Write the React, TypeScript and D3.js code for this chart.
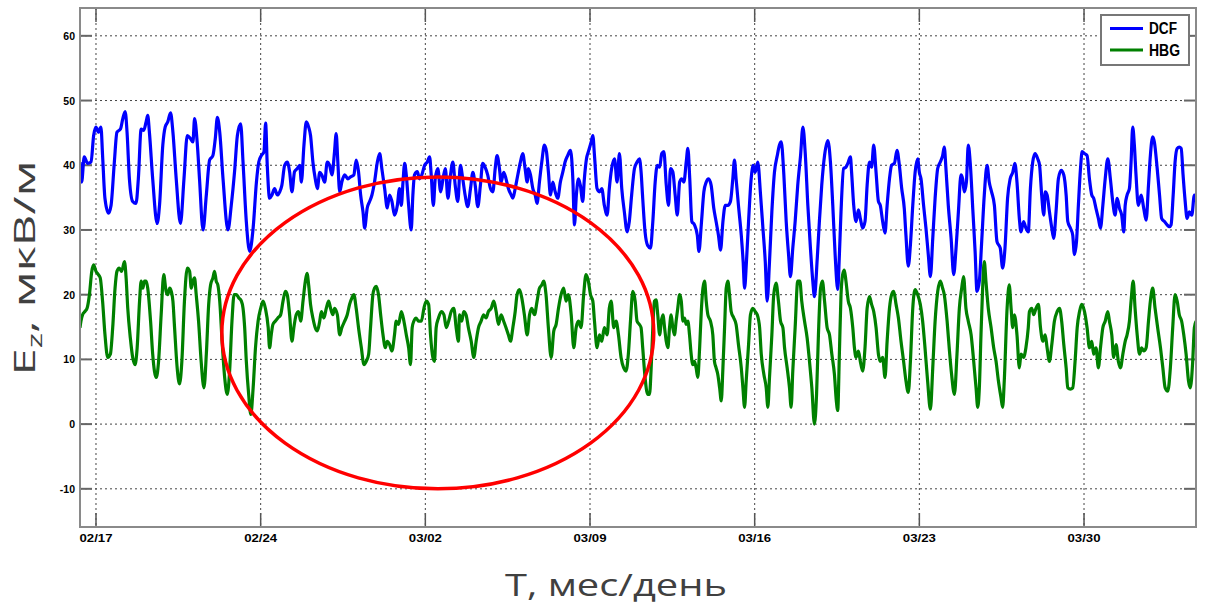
import React from "react";
import * as d3 from "d3";

// Days counted from 02/17 (2016, leap year), values in мкВ/м
const dcfData: [number, number][] = [
  [-0.68, 40.5], [-0.61, 37.4], [-0.5, 41.3], [-0.36, 40.3], [-0.21, 40.5], [-0.1, 44.6], [0.0, 45.9], [0.1, 45.1], [0.21, 45.9], [0.28, 41.5], [0.38, 34.9], [0.53, 32.6], [0.64, 33.8], [0.78, 40.5], [0.89, 45.1], [1.04, 45.6], [1.14, 47.2], [1.24, 48.3], [1.32, 45.1], [1.42, 37.9], [1.56, 34.4], [1.7, 34.1], [1.8, 37.9], [1.92, 45.6], [2.03, 45.4], [2.13, 46.7], [2.2, 47.7], [2.27, 45.1], [2.41, 37.9], [2.6, 31.0], [2.7, 33.8], [2.84, 43.1], [2.94, 45.9], [3.05, 46.7], [3.17, 48.1], [3.27, 45.1], [3.41, 37.9], [3.59, 31.0], [3.74, 37.9], [3.88, 44.6], [4.02, 44.1], [4.12, 43.6], [4.19, 47.2], [4.3, 43.6], [4.4, 37.9], [4.55, 30.0], [4.69, 35.4], [4.83, 40.8], [4.97, 41.5], [5.07, 44.1], [5.16, 47.4], [5.26, 45.1], [5.4, 37.9], [5.61, 30.0], [5.75, 33.8], [5.89, 39.0], [6.01, 44.6], [6.15, 46.4], [6.25, 40.5], [6.39, 31.3], [6.53, 26.7], [6.68, 30.3], [6.82, 37.4], [6.92, 40.5], [7.03, 41.5], [7.14, 42.1], [7.21, 46.5], [7.28, 40.0], [7.38, 34.9], [7.48, 35.4], [7.59, 36.4], [7.71, 35.4], [7.81, 35.9], [7.9, 36.9], [8.02, 40.0], [8.13, 40.5], [8.23, 39.0], [8.33, 35.9], [8.44, 39.0], [8.56, 39.5], [8.66, 40.0], [8.73, 37.4], [8.84, 43.1], [8.94, 46.7], [9.04, 45.9], [9.12, 44.6], [9.22, 40.5], [9.32, 37.9], [9.41, 36.4], [9.51, 38.9], [9.6, 38.5], [9.72, 37.4], [9.83, 40.5], [9.93, 40.0], [10.03, 38.5], [10.14, 42.1], [10.21, 44.9], [10.28, 40.5], [10.36, 35.9], [10.45, 37.4], [10.57, 38.5], [10.71, 37.9], [10.82, 38.2], [10.96, 38.5], [11.06, 40.8], [11.16, 39.0], [11.25, 35.4], [11.35, 32.8], [11.42, 30.3], [11.53, 33.4], [11.63, 34.4], [11.73, 35.4], [11.84, 37.4], [11.96, 40.5], [12.06, 41.8], [12.15, 39.5], [12.27, 36.4], [12.38, 33.4], [12.48, 35.4], [12.58, 34.4], [12.69, 32.3], [12.81, 33.8], [12.9, 36.4], [12.98, 33.8], [13.05, 37.4], [13.12, 40.3], [13.19, 38.5], [13.29, 33.8], [13.4, 30.0], [13.47, 35.4], [13.54, 38.5], [13.66, 39.0], [13.75, 37.9], [13.85, 38.5], [13.97, 40.0], [14.08, 40.5], [14.18, 41.3], [14.25, 38.5], [14.34, 33.8], [14.42, 37.9], [14.53, 39.5], [14.65, 35.9], [14.75, 37.9], [14.85, 39.5], [14.96, 34.9], [15.07, 38.5], [15.17, 40.5], [15.27, 36.9], [15.38, 34.4], [15.49, 40.0], [15.59, 37.9], [15.69, 35.4], [15.8, 33.6], [15.92, 36.4], [16.02, 38.9], [16.12, 36.9], [16.23, 33.6], [16.34, 36.9], [16.44, 40.3], [16.54, 39.7], [16.65, 38.5], [16.77, 36.4], [16.87, 35.9], [16.97, 39.5], [17.05, 41.5], [17.15, 39.5], [17.22, 37.4], [17.33, 38.9], [17.43, 37.9], [17.53, 36.4], [17.65, 35.4], [17.72, 34.9], [17.82, 36.4], [17.93, 38.5], [18.04, 40.5], [18.14, 41.8], [18.24, 39.5], [18.33, 37.4], [18.38, 39.5], [18.47, 38.5], [18.57, 36.4], [18.67, 35.4], [18.75, 34.1], [18.85, 37.4], [18.95, 40.5], [19.06, 43.1], [19.15, 42.1], [19.23, 39.0], [19.32, 35.4], [19.42, 37.4], [19.52, 35.9], [19.63, 34.9], [19.74, 37.4], [19.84, 38.9], [19.94, 40.5], [20.05, 41.5], [20.17, 42.3], [20.27, 37.9], [20.34, 30.8], [20.42, 35.4], [20.51, 37.9], [20.59, 36.9], [20.69, 34.4], [20.76, 37.9], [20.85, 41.0], [20.93, 42.1], [21.05, 43.6], [21.12, 44.6], [21.19, 41.5], [21.3, 36.4], [21.4, 35.9], [21.5, 36.4], [21.61, 33.8], [21.73, 32.3], [21.82, 36.4], [21.92, 39.5], [22.04, 41.0], [22.15, 37.4], [22.25, 41.8], [22.35, 36.4], [22.46, 32.8], [22.58, 29.7], [22.67, 31.3], [22.77, 35.4], [22.89, 39.5], [23.0, 40.5], [23.1, 41.0], [23.17, 39.0], [23.24, 34.9], [23.34, 29.7], [23.45, 27.6], [23.57, 27.2], [23.67, 31.3], [23.77, 37.4], [23.86, 40.0], [23.96, 39.7], [24.05, 41.8], [24.14, 42.1], [24.24, 37.0], [24.34, 33.8], [24.42, 39.5], [24.52, 39.0], [24.62, 35.4], [24.71, 32.3], [24.81, 37.4], [24.9, 37.9], [24.99, 37.4], [25.09, 40.5], [25.16, 42.6], [25.24, 37.9], [25.33, 31.3], [25.44, 30.8], [25.56, 29.2], [25.63, 26.7], [25.73, 30.8], [25.84, 35.9], [25.94, 37.4], [26.04, 37.9], [26.15, 36.9], [26.26, 33.4], [26.36, 31.3], [26.46, 29.2], [26.55, 26.9], [26.65, 31.3], [26.75, 33.8], [26.86, 33.8], [26.97, 34.4], [27.07, 37.9], [27.14, 40.8], [27.21, 37.9], [27.31, 33.8], [27.43, 29.2], [27.51, 25.1], [27.57, 21.0], [27.65, 25.1], [27.74, 31.3], [27.85, 37.9], [27.94, 40.0], [28.02, 38.9], [28.13, 40.5], [28.25, 35.4], [28.35, 30.3], [28.45, 25.1], [28.53, 19.0], [28.63, 25.1], [28.73, 32.8], [28.84, 38.9], [28.96, 41.5], [29.05, 43.1], [29.13, 43.6], [29.24, 38.5], [29.34, 31.3], [29.44, 26.2], [29.52, 22.8], [29.62, 27.2], [29.72, 31.3], [29.83, 36.9], [29.95, 41.5], [30.05, 45.9], [30.15, 41.8], [30.26, 33.8], [30.37, 27.2], [30.47, 22.1], [30.54, 19.7], [30.66, 25.6], [30.75, 31.3], [30.85, 36.9], [30.97, 41.5], [31.11, 43.8], [31.22, 40.5], [31.32, 33.8], [31.42, 26.2], [31.53, 20.8], [31.6, 26.1], [31.67, 32.8], [31.78, 39.5], [31.88, 39.7], [31.98, 40.5], [32.07, 41.3], [32.12, 38.9], [32.21, 33.8], [32.31, 31.3], [32.41, 33.1], [32.49, 31.8], [32.59, 30.3], [32.69, 31.3], [32.78, 36.9], [32.88, 40.5], [32.97, 39.7], [33.06, 43.1], [33.16, 38.9], [33.26, 34.4], [33.34, 33.8], [33.44, 31.3], [33.54, 29.5], [33.63, 33.8], [33.73, 37.9], [33.82, 40.0], [33.94, 40.3], [34.05, 42.3], [34.15, 40.0], [34.25, 36.4], [34.36, 33.3], [34.43, 29.2], [34.53, 24.4], [34.62, 27.7], [34.72, 33.8], [34.82, 38.9], [34.93, 41.0], [35.0, 38.9], [35.07, 37.9], [35.18, 33.8], [35.28, 30.3], [35.38, 26.2], [35.47, 22.8], [35.57, 28.7], [35.67, 34.9], [35.78, 39.5], [35.89, 40.5], [35.99, 41.5], [36.06, 42.8], [36.13, 39.5], [36.23, 33.8], [36.35, 28.7], [36.46, 23.1], [36.56, 27.2], [36.66, 32.8], [36.77, 38.5], [36.84, 37.9], [36.91, 35.9], [37.0, 37.4], [37.08, 43.1], [37.17, 40.0], [37.27, 33.3], [37.37, 26.7], [37.45, 20.5], [37.55, 22.1], [37.65, 28.2], [37.76, 35.4], [37.88, 40.0], [37.97, 37.4], [38.07, 35.9], [38.19, 33.8], [38.3, 28.2], [38.44, 27.2], [38.54, 24.1], [38.64, 27.2], [38.75, 34.9], [38.86, 37.9], [38.97, 38.9], [39.06, 40.3], [39.15, 37.4], [39.25, 31.8], [39.32, 29.7], [39.43, 31.3], [39.53, 30.3], [39.63, 29.7], [39.72, 36.4], [39.82, 40.5], [39.92, 41.8], [40.03, 41.0], [40.11, 40.0], [40.2, 35.4], [40.29, 32.3], [40.35, 35.9], [40.43, 35.4], [40.53, 32.8], [40.63, 30.3], [40.71, 28.7], [40.81, 32.8], [40.91, 37.9], [41.03, 39.2], [41.14, 38.5], [41.24, 35.4], [41.31, 31.3], [41.42, 30.3], [41.52, 29.2], [41.59, 26.2], [41.68, 28.2], [41.76, 33.8], [41.85, 39.5], [41.92, 42.1], [42.02, 41.8], [42.13, 41.5], [42.23, 37.9], [42.33, 35.4], [42.41, 34.9], [42.51, 33.3], [42.61, 31.8], [42.7, 30.3], [42.8, 33.8], [42.9, 37.9], [43.01, 41.0], [43.12, 37.9], [43.22, 34.4], [43.32, 32.3], [43.41, 34.9], [43.51, 33.3], [43.6, 32.3], [43.69, 29.7], [43.75, 33.8], [43.83, 35.4], [43.93, 36.4], [44.0, 40.5], [44.07, 45.9], [44.14, 43.1], [44.21, 38.5], [44.31, 33.8], [44.43, 35.4], [44.54, 33.3], [44.64, 31.5], [44.74, 36.9], [44.82, 41.5], [44.92, 44.4], [44.99, 43.6], [45.11, 39.5], [45.21, 35.4], [45.3, 31.8], [45.42, 31.3], [45.53, 30.8], [45.63, 30.5], [45.7, 30.8], [45.79, 35.4], [45.87, 40.5], [45.96, 42.6], [46.05, 42.8], [46.13, 42.6], [46.21, 38.5], [46.3, 34.4], [46.38, 31.8], [46.48, 32.8], [46.58, 32.3], [46.69, 35.4], [46.76, 34.9],
];

const hbgData: [number, number][] = [
  [-0.68, 14.9], [-0.64, 15.9], [-0.57, 16.9], [-0.47, 17.4], [-0.38, 17.9], [-0.28, 20.0], [-0.18, 23.6], [-0.1, 24.6], [0.0, 23.6], [0.1, 23.1], [0.18, 22.6], [0.28, 19.0], [0.38, 13.9], [0.5, 10.3], [0.61, 10.8], [0.71, 14.9], [0.81, 21.0], [0.89, 23.6], [0.99, 24.1], [1.09, 23.6], [1.21, 25.1], [1.28, 22.6], [1.35, 17.9], [1.46, 13.3], [1.56, 10.3], [1.66, 9.2], [1.75, 11.8], [1.85, 18.9], [1.92, 22.1], [1.99, 21.0], [2.06, 22.1], [2.13, 22.1], [2.2, 21.0], [2.32, 15.9], [2.41, 10.8], [2.56, 7.2], [2.66, 9.7], [2.77, 16.9], [2.88, 23.1], [2.98, 20.5], [3.05, 20.0], [3.13, 21.0], [3.2, 20.5], [3.27, 19.0], [3.34, 14.9], [3.45, 8.7], [3.55, 6.2], [3.65, 9.7], [3.76, 19.0], [3.88, 24.1], [3.98, 23.6], [4.05, 21.0], [4.12, 22.1], [4.19, 22.6], [4.26, 20.0], [4.36, 15.9], [4.47, 9.7], [4.59, 5.6], [4.69, 10.8], [4.79, 18.5], [4.87, 21.5], [4.97, 22.6], [5.04, 23.6], [5.11, 22.1], [5.18, 21.5], [5.26, 19.0], [5.36, 12.8], [5.47, 7.2], [5.58, 4.6], [5.68, 8.2], [5.78, 15.9], [5.87, 20.0], [5.97, 20.0], [6.07, 19.5], [6.18, 19.0], [6.25, 17.9], [6.32, 14.9], [6.39, 9.7], [6.49, 4.6], [6.58, 1.5], [6.68, 5.6], [6.78, 11.8], [6.89, 15.9], [7.0, 17.9], [7.1, 19.0], [7.2, 17.9], [7.32, 14.9], [7.38, 11.8], [7.45, 13.8], [7.52, 15.4], [7.62, 15.9], [7.73, 16.4], [7.85, 16.9], [7.95, 19.0], [8.05, 20.5], [8.13, 20.0], [8.23, 16.9], [8.33, 12.8], [8.41, 14.9], [8.51, 16.9], [8.61, 17.4], [8.7, 15.9], [8.8, 19.0], [8.9, 22.1], [8.97, 23.3], [9.04, 21.5], [9.12, 18.5], [9.22, 16.4], [9.32, 14.9], [9.41, 14.4], [9.51, 15.9], [9.58, 17.4], [9.69, 16.4], [9.79, 17.9], [9.89, 19.0], [9.97, 17.9], [10.07, 16.9], [10.14, 17.9], [10.26, 16.9], [10.36, 13.8], [10.45, 14.9], [10.57, 15.9], [10.68, 16.9], [10.78, 18.5], [10.88, 19.5], [10.96, 20.0], [11.06, 17.9], [11.16, 14.9], [11.28, 11.8], [11.39, 9.2], [11.49, 9.7], [11.59, 10.8], [11.67, 14.9], [11.77, 20.0], [11.84, 21.0], [11.91, 21.3], [12.01, 20.0], [12.1, 16.9], [12.2, 13.8], [12.3, 11.8], [12.38, 12.8], [12.48, 12.3], [12.58, 11.3], [12.69, 13.8], [12.76, 15.9], [12.86, 15.4], [12.98, 17.4], [13.09, 15.9], [13.19, 13.8], [13.29, 11.8], [13.37, 9.2], [13.44, 14.9], [13.51, 15.9], [13.61, 16.4], [13.71, 15.9], [13.83, 15.9], [13.94, 17.9], [14.04, 19.0], [14.14, 18.5], [14.22, 13.8], [14.32, 10.3], [14.39, 9.7], [14.46, 14.9], [14.56, 16.4], [14.68, 17.4], [14.79, 16.9], [14.89, 14.9], [14.99, 15.9], [15.1, 17.4], [15.21, 17.9], [15.31, 14.9], [15.41, 12.8], [15.45, 16.9], [15.55, 15.9], [15.63, 17.4], [15.73, 16.9], [15.83, 14.9], [15.95, 12.8], [16.06, 10.3], [16.16, 12.8], [16.26, 14.9], [16.37, 15.9], [16.48, 16.9], [16.58, 16.4], [16.68, 17.4], [16.8, 17.9], [16.91, 19.0], [17.01, 17.4], [17.11, 15.4], [17.22, 16.9], [17.33, 15.9], [17.43, 14.9], [17.53, 13.8], [17.62, 12.8], [17.72, 14.9], [17.82, 17.4], [17.9, 20.0], [18.0, 20.8], [18.1, 19.5], [18.21, 16.9], [18.33, 13.8], [18.43, 16.9], [18.52, 17.9], [18.64, 16.9], [18.75, 19.0], [18.85, 21.0], [18.95, 21.5], [19.03, 22.1], [19.13, 20.0], [19.23, 14.9], [19.35, 10.3], [19.46, 14.4], [19.56, 15.4], [19.66, 17.9], [19.77, 20.0], [19.88, 21.0], [19.98, 19.0], [20.08, 20.0], [20.2, 16.9], [20.31, 11.8], [20.41, 14.9], [20.51, 15.9], [20.62, 14.9], [20.73, 20.0], [20.83, 23.1], [20.93, 22.1], [21.02, 20.0], [21.12, 19.0], [21.19, 15.9], [21.3, 11.8], [21.4, 13.8], [21.5, 12.8], [21.61, 14.9], [21.73, 13.8], [21.82, 17.9], [21.9, 19.0], [22.01, 14.9], [22.11, 15.9], [22.21, 13.8], [22.32, 10.3], [22.43, 8.7], [22.53, 8.2], [22.63, 10.8], [22.72, 15.9], [22.82, 20.5], [22.92, 19.0], [23.0, 15.9], [23.1, 15.4], [23.17, 14.9], [23.24, 11.8], [23.34, 7.2], [23.45, 4.6], [23.53, 4.6], [23.6, 8.7], [23.67, 14.9], [23.74, 19.0], [23.81, 19.2], [23.88, 16.9], [23.96, 13.8], [24.03, 15.9], [24.1, 16.9], [24.17, 14.9], [24.24, 12.8], [24.31, 11.8], [24.38, 14.9], [24.45, 16.9], [24.52, 14.9], [24.59, 13.8], [24.66, 15.9], [24.73, 17.9], [24.81, 20.0], [24.88, 19.0], [24.95, 15.9], [25.02, 16.4], [25.09, 15.4], [25.16, 15.9], [25.23, 13.8], [25.3, 10.8], [25.37, 9.2], [25.44, 9.7], [25.51, 8.7], [25.58, 7.2], [25.66, 11.8], [25.73, 17.4], [25.8, 21.0], [25.87, 22.1], [25.94, 19.0], [26.01, 16.9], [26.12, 15.9], [26.22, 13.8], [26.29, 9.7], [26.36, 8.7], [26.43, 7.7], [26.51, 5.6], [26.58, 3.6], [26.65, 8.7], [26.72, 14.9], [26.79, 21.0], [26.86, 22.1], [26.93, 20.0], [27.0, 17.4], [27.11, 16.4], [27.21, 15.4], [27.31, 12.3], [27.43, 8.7], [27.5, 5.6], [27.57, 2.6], [27.64, 6.7], [27.74, 12.3], [27.82, 16.9], [27.92, 17.9], [28.02, 17.4], [28.11, 16.9], [28.21, 14.9], [28.28, 10.8], [28.39, 7.7], [28.49, 5.6], [28.56, 2.6], [28.63, 7.2], [28.73, 13.8], [28.81, 20.0], [28.91, 21.8], [29.01, 19.0], [29.1, 15.9], [29.2, 14.9], [29.27, 11.8], [29.38, 8.7], [29.48, 5.6], [29.55, 2.6], [29.62, 8.2], [29.72, 14.9], [29.83, 22.1], [29.92, 22.1], [30.0, 19.0], [30.12, 15.9], [30.23, 13.3], [30.33, 9.7], [30.43, 5.6], [30.54, 0.0], [30.63, 4.6], [30.71, 13.8], [30.8, 21.0], [30.88, 22.1], [30.97, 19.0], [31.08, 14.9], [31.18, 13.8], [31.28, 10.8], [31.39, 7.7], [31.47, 3.6], [31.53, 2.1], [31.6, 10.8], [31.67, 20.0], [31.74, 23.1], [31.81, 23.8], [31.88, 22.1], [31.98, 19.0], [32.07, 17.9], [32.17, 14.9], [32.24, 11.8], [32.31, 10.3], [32.41, 11.3], [32.49, 9.7], [32.59, 8.2], [32.69, 11.8], [32.78, 17.9], [32.88, 19.7], [32.97, 18.5], [33.06, 17.4], [33.16, 14.9], [33.26, 10.8], [33.34, 9.7], [33.44, 10.3], [33.54, 7.2], [33.63, 12.8], [33.73, 17.9], [33.82, 20.0], [33.91, 20.5], [34.01, 18.5], [34.11, 16.4], [34.22, 12.8], [34.33, 9.7], [34.43, 6.7], [34.53, 4.9], [34.62, 9.7], [34.72, 17.9], [34.82, 20.8], [34.93, 20.0], [35.04, 18.5], [35.14, 15.9], [35.24, 11.8], [35.35, 6.7], [35.47, 2.3], [35.57, 8.7], [35.67, 15.9], [35.78, 20.5], [35.89, 22.1], [35.99, 21.0], [36.06, 20.0], [36.18, 15.9], [36.28, 11.3], [36.37, 7.7], [36.49, 4.6], [36.6, 10.8], [36.7, 17.9], [36.8, 21.0], [36.88, 22.8], [36.98, 17.9], [37.08, 15.9], [37.2, 13.8], [37.31, 9.7], [37.41, 5.6], [37.48, 2.6], [37.55, 5.6], [37.62, 13.8], [37.69, 21.0], [37.76, 25.1], [37.83, 22.1], [37.93, 17.9], [38.05, 14.9], [38.16, 11.8], [38.26, 9.7], [38.36, 6.7], [38.47, 4.1], [38.54, 2.6], [38.61, 6.7], [38.73, 17.9], [38.82, 21.5], [38.9, 17.9], [38.97, 14.9], [39.04, 16.9], [39.15, 13.8], [39.25, 8.7], [39.32, 10.8], [39.43, 10.3], [39.53, 11.8], [39.63, 14.9], [39.68, 17.4], [39.78, 17.9], [39.86, 16.9], [39.96, 17.9], [40.06, 18.5], [40.15, 14.9], [40.25, 12.8], [40.35, 13.8], [40.43, 11.8], [40.53, 9.7], [40.63, 12.3], [40.74, 15.9], [40.86, 17.4], [40.96, 17.9], [41.05, 15.9], [41.14, 12.3], [41.24, 8.7], [41.31, 5.6], [41.42, 5.4], [41.52, 5.6], [41.62, 9.7], [41.71, 14.9], [41.81, 17.4], [41.9, 18.5], [42.02, 17.4], [42.13, 14.9], [42.23, 11.8], [42.33, 12.8], [42.41, 10.8], [42.51, 11.8], [42.61, 8.7], [42.7, 11.8], [42.8, 14.9], [42.9, 15.9], [43.01, 17.4], [43.08, 15.9], [43.18, 13.8], [43.26, 10.3], [43.36, 12.3], [43.46, 9.7], [43.55, 8.7], [43.65, 10.8], [43.75, 12.8], [43.83, 13.8], [43.93, 15.9], [44.0, 19.0], [44.09, 22.1], [44.17, 17.9], [44.26, 13.8], [44.36, 10.8], [44.45, 11.8], [44.54, 11.3], [44.64, 11.8], [44.74, 15.9], [44.82, 19.0], [44.92, 21.0], [45.02, 17.9], [45.13, 14.9], [45.25, 11.8], [45.35, 8.7], [45.45, 5.6], [45.56, 5.1], [45.67, 8.7], [45.77, 14.9], [45.87, 20.0], [45.96, 19.0], [46.05, 16.9], [46.15, 15.9], [46.24, 13.8], [46.34, 10.8], [46.44, 6.7], [46.52, 5.6], [46.62, 9.7], [46.69, 14.9], [46.76, 15.9],
];

const xTickLabels = ["02/17", "02/24", "03/02", "03/09", "03/16", "03/23", "03/30"];
const yTickValues = [-10, 0, 10, 20, 30, 40, 50, 60];
const seriesNames = ["DCF", "HBG"];
const seriesColors = ["#0000ff", "#008000"];
const xAxisTitle = "T, мес/день";
const yAxisTitleMain = "E";
const yAxisTitleSub = "z";
const yAxisTitleRest = ", мкВ/м";
// highlighted region (ellipse): center day, center value, half-width in days, half-height in value units
const highlight = { day: 14.53, value: 14.1, halfDays: 9.18, halfValue: 24.1 };

const YEAR = 2016;
const base = new Date(YEAR, 1, 17).getTime();
const dayToDate = (d: number) => new Date(base + d * 86400000);
const labelToDate = (s: string) => {
  const [m, d] = s.split("/").map(Number);
  return new Date(YEAR, m - 1, d);
};

export default function App() {
  const W = 1206, H = 605;
  const left = 80, right = 1196, top = 8, bottom = 527;

  const x = d3.scaleTime().domain([dayToDate(-0.68), dayToDate(46.76)]).range([left, right]);
  const y = d3.scaleLinear().domain([-15.9, 64.3]).range([bottom, top]);

  const line = d3
    .line<[number, number]>()
    .x((p) => x(dayToDate(p[0])))
    .y((p) => y(p[1]))
    .curve(d3.curveMonotoneX);

  const tickFont = "'Liberation Sans', Arial, sans-serif";
  const titleFont = "'Open Sans', 'Noto Sans', sans-serif";
  const gridStyle = { stroke: "#444", strokeWidth: 1, strokeDasharray: "2,3" };

  const cx = x(dayToDate(highlight.day));
  const cy = y(highlight.value);
  const rx = x(dayToDate(highlight.day + highlight.halfDays)) - cx;
  const ry = y(highlight.value - highlight.halfValue) - cy;

  const xTicks = xTickLabels.map((l) => ({ label: l, px: x(labelToDate(l)) }));

  return (
    <svg width={W} height={H} style={{ position: "absolute", left: 0, top: 0, background: "#fff" }}>
      <defs>
        <clipPath id="plotclip">
          <rect x={left} y={top} width={right - left} height={bottom - top} />
        </clipPath>
      </defs>
      <rect x={0} y={0} width={W} height={H} fill="#fff" />

      {/* grid */}
      {yTickValues.map((v) => (
        <line key={"gy" + v} x1={left} x2={right} y1={y(v)} y2={y(v)} {...gridStyle} />
      ))}
      {xTicks.map((t) => (
        <line key={"gx" + t.label} x1={t.px} x2={t.px} y1={top} y2={bottom} {...gridStyle} />
      ))}

      {/* tick marks and labels */}
      {yTickValues.map((v) => (
        <g key={"ty" + v}>
          <line x1={left} x2={left + 12} y1={y(v)} y2={y(v)} stroke="#666" strokeWidth={2} />
          <line x1={right - 12} x2={right} y1={y(v)} y2={y(v)} stroke="#666" strokeWidth={2} />
          <text
            x={75}
            y={y(v)}
            textAnchor="end"
            dominantBaseline="central"
            fontFamily={tickFont}
            fontWeight="bold"
            fontSize={10.5}
            fill="#000"
          >
            {v}
          </text>
        </g>
      ))}
      {xTicks.map((t) => (
        <g key={"tx" + t.label}>
          <line x1={t.px} x2={t.px} y1={bottom} y2={bottom - 14} stroke="#555" strokeWidth={1.5} />
          <line x1={t.px} x2={t.px} y1={top} y2={top + 14} stroke="#555" strokeWidth={1.5} />
          <text
            x={t.px}
            y={bottom + 15}
            textAnchor="middle"
            fontFamily={tickFont}
            fontWeight="bold"
            fontSize={10.5}
            textLength={33}
            lengthAdjust="spacingAndGlyphs"
            fill="#000"
          >
            {t.label}
          </text>
        </g>
      ))}

      {/* series */}
      <g clipPath="url(#plotclip)">
        <path d={line(dcfData) || ""} fill="none" stroke={seriesColors[0]} strokeWidth={3.2} strokeLinejoin="round" />
        <path d={line(hbgData) || ""} fill="none" stroke={seriesColors[1]} strokeWidth={3.2} strokeLinejoin="round" />
      </g>

      {/* highlight ellipse */}
      <ellipse cx={cx} cy={cy} rx={rx} ry={ry} fill="none" stroke="#ff0000" strokeWidth={3.5} />

      {/* axes box */}
      <rect x={left} y={top} width={right - left} height={bottom - top} fill="none" stroke="#8a8a8a" strokeWidth={2} />

      {/* legend */}
      <g>
        <rect x={1101} y={15} width={88} height={50} fill="#fff" stroke="#777" strokeWidth={2} />
        {seriesNames.map((n, i) => (
          <g key={n}>
            <line x1={1110} x2={1143} y1={28.5 + i * 21.5} y2={28.5 + i * 21.5} stroke={seriesColors[i]} strokeWidth={3} />
            <text
              x={1149}
              y={28 + i * 22}
              dominantBaseline="central"
              fontFamily={tickFont}
              fontWeight="bold"
              fontSize={16}
              textLength={i === 0 ? 28 : 31}
              lengthAdjust="spacingAndGlyphs"
              fill="#000"
            >
              {n}
            </text>
          </g>
        ))}
      </g>

      {/* axis titles */}
      <text
        x={616}
        y={596}
        textAnchor="middle"
        fontFamily={titleFont}
        fontSize={31}
        textLength={222}
        lengthAdjust="spacingAndGlyphs"
        fill="#404040"
      >
        {xAxisTitle}
      </text>
      <text
        transform={`translate(35, 268) rotate(-90)`}
        textAnchor="middle"
        fontFamily={titleFont}
        fontSize={30}
        textLength={215}
        lengthAdjust="spacingAndGlyphs"
        fill="#404040"
      >
        {yAxisTitleMain}
        <tspan fontSize={20} dy={7}>{yAxisTitleSub}</tspan>
        <tspan dy={-7}>{yAxisTitleRest}</tspan>
      </text>
    </svg>
  );
}
